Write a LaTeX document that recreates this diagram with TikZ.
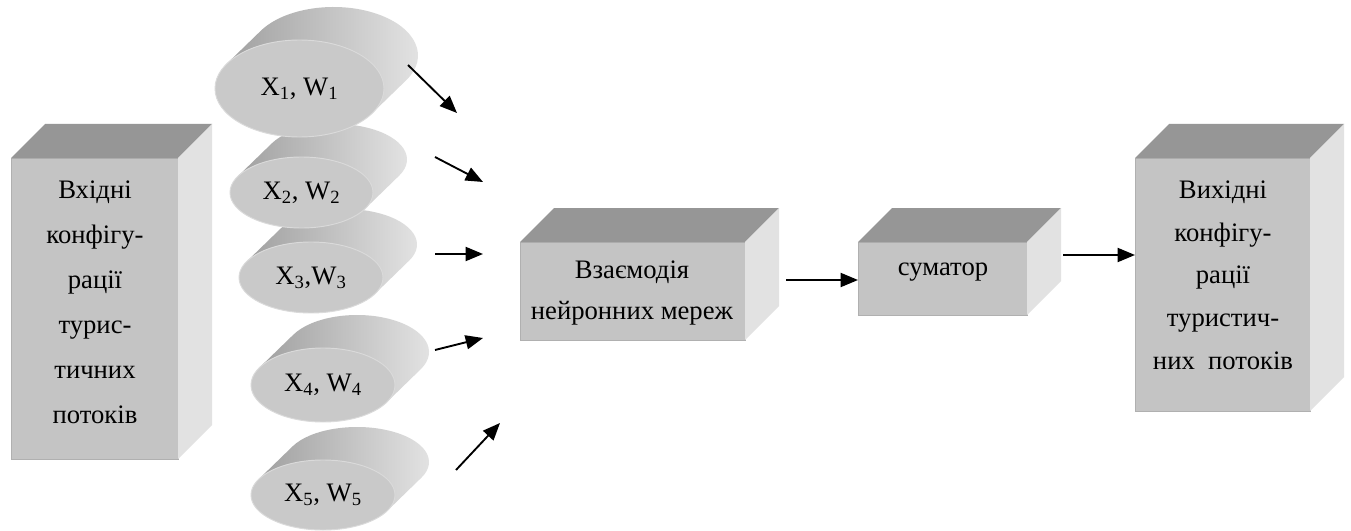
\documentclass[tikz,border=0pt]{standalone}
\usepackage{fontspec}
\setmainfont{Liberation Serif}
\usetikzlibrary{arrows.meta,fit,calc,shapes.geometric}
\definecolor{frontc}{HTML}{C4C4C4}
\definecolor{topc}{HTML}{969696}
\definecolor{sidec}{HTML}{E2E2E2}
\definecolor{edgec}{HTML}{B0B0B0}
\definecolor{cylface}{HTML}{C9C9C9}
\definecolor{cylrim}{HTML}{DADADA}
\definecolor{cyldark}{HTML}{A0A0A0}
\definecolor{cyllight}{HTML}{E6E6E6}
\tikzset{
  front/.style={rectangle, fill=frontc, draw=edgec, line width=0.6pt, inner sep=0pt, outer sep=0pt},
  topface/.style={fill=topc},
  sideface/.style={fill=sidec},
  txt/.style={font=\fontsize{20pt}{33.75pt}\selectfont, align=center, inner sep=0pt},
  cyltxt/.style={font=\fontsize{20pt}{22pt}\selectfont},
  cylfront/.style={ellipse, fill=cylface, draw=cylrim, line width=0.7pt, inner sep=0pt, outer sep=0pt},
  arr/.style={line width=1.4pt, -{Triangle[length=13pt,width=10.5pt]}},
}
\newcommand{\depthbox}[1]{%
  \fill[topface] (#1.north west) -- ++(34,-34) -- ([shift={(34,-34)}]#1.north east) -- (#1.north east) -- cycle;
  \fill[sideface] (#1.north east) -- ++(34,-34) -- ([shift={(34,-34)}]#1.south east) -- (#1.south east) -- cycle;
}
\newcommand{\cylin}[6]{%
  \pgfmathsetmacro\cyta{atan((#5*34)/(#4*33))}
  \shade[left color=cyldark, right color=cyllight]
    ($(#2,#3)+(180+\cyta:#4 and #5)$)
    arc[start angle=180+\cyta, end angle=360+\cyta, x radius=#4, y radius=#5]
    -- ++(34,-33)
    arc[start angle=360+\cyta, end angle=180+\cyta, x radius=#4, y radius=#5]
    -- cycle;
  \node[cylfront, cyltxt, minimum width=#4*1.5pt, minimum height=#5*1.5pt] (#1) at (#2,#3) {#6};
}
\begin{document}
\begin{tikzpicture}[x=0.75pt, y=-0.75pt]
\useasboundingbox (0,0) rectangle (1351,531);
\fill[white] (0,0) rectangle (1351,531);

% left box
\node[front, fit={(11,158) (178,459)}] (lbox) {};
\depthbox{lbox}
\node[txt] (ltxt) at (95,302) {Вхідні\\конфігу-\\рації\\турис-\\тичних\\потоків};

% cylinders
\cylin{c5}{323}{495}{72}{35}{X\textsubscript{5}, W\textsubscript{5}}
\cylin{c4}{323}{385}{72}{37}{X\textsubscript{4}, W\textsubscript{4}}
\cylin{c3}{311}{277.5}{72}{35.5}{X\textsubscript{3},W\textsubscript{3}}
\cylin{c2}{301.5}{192.5}{71.5}{35.5}{X\textsubscript{2}, W\textsubscript{2}}
\cylin{c1}{299.5}{88.5}{84.5}{48.5}{X\textsubscript{1}, W\textsubscript{1}}

% middle box
\node[front, fit={(520,242) (745,340)}] (mbox) {};
\depthbox{mbox}
\node[txt, font=\fontsize{20pt}{31pt}\selectfont] (mtxt) at (632,293) {Взаємодія\\нейронних мереж};

% summator
\node[front, fit={(858,242) (1027,315)}] (sbox) {};
\depthbox{sbox}
\node[txt] (stxt) at (943,272) {суматор};

% right box
\node[front, fit={(1135,158) (1310,411)}] (rbox) {};
\depthbox{rbox}
\node[txt, font=\fontsize{20pt}{32pt}\selectfont] (rtxt) at (1223,275) {Вихідні\\конфігу-\\рації\\туристич-\\них\ \ потоків};

% arrow end points
\coordinate (a1s) at (408,65);  \coordinate (a1e) at (457,113);
\coordinate (a2s) at (435,157); \coordinate (a2e) at (483,182);
\coordinate (a3s) at (435,254); \coordinate (a3e) at (483,254);
\coordinate (a4s) at (435,350); \coordinate (a4e) at (483,338);
\coordinate (a5s) at (456,470); \coordinate (a5e) at (500,423);
\coordinate (ms) at (786,280);
\coordinate (sr) at (1063,255);

\draw[arr] (a1s) -- (a1e);
\draw[arr] (a2s) -- (a2e);
\draw[arr] (a3s) -- (a3e);
\draw[arr] (a4s) -- (a4e);
\draw[arr] (a5s) -- (a5e);
\draw[arr] (ms) -- (ms -| sbox.west);
\draw[arr] (sr) -- (sr -| rbox.west);
\end{tikzpicture}
\end{document}
